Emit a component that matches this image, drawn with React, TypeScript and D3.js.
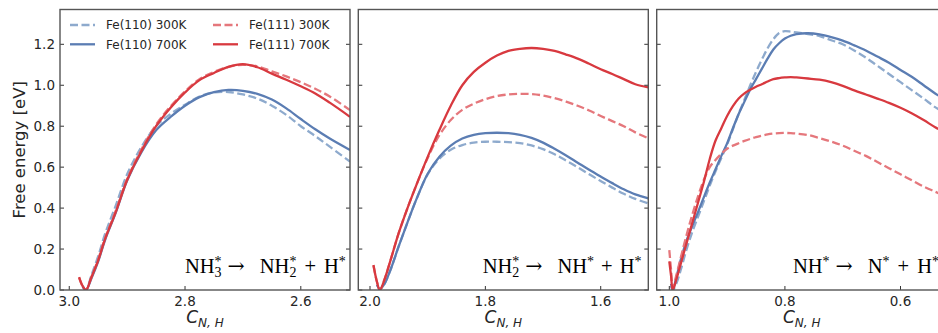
import React from "react";
import * as d3 from "d3";

// ---------- data ----------
const yTicks = [0.0, 0.2, 0.4, 0.6, 0.8, 1.0, 1.2];

const p1Ticks = [3.0, 2.8, 2.6];
const p1C = [2.983, 2.977, 2.971, 2.962, 2.95, 2.938, 2.92, 2.9, 2.875, 2.85, 2.825, 2.8, 2.775, 2.75, 2.725, 2.7, 2.675, 2.65, 2.625, 2.6, 2.575, 2.55, 2.515];
const p1Fe110_300 = [null, 0.02, 0.0, 0.07, 0.165, 0.275, 0.41, 0.565, 0.7, 0.8, 0.86, 0.905, 0.945, 0.965, 0.967, 0.955, 0.935, 0.9, 0.855, 0.8, 0.752, 0.7, 0.627];
const p1Fe110_700 = [null, 0.015, 0.0, 0.055, 0.14, 0.245, 0.375, 0.535, 0.675, 0.78, 0.845, 0.9, 0.942, 0.966, 0.977, 0.973, 0.958, 0.93, 0.887, 0.835, 0.785, 0.74, 0.684];
const p1Fe111_300 = [0.06, 0.018, 0.0, 0.062, 0.15, 0.255, 0.385, 0.542, 0.688, 0.808, 0.897, 0.97, 1.03, 1.065, 1.09, 1.1, 1.092, 1.068, 1.043, 1.015, 0.983, 0.945, 0.879];
const p1Fe111_700 = [0.063, 0.02, 0.0, 0.06, 0.145, 0.25, 0.378, 0.537, 0.68, 0.8, 0.89, 0.965, 1.025, 1.06, 1.09, 1.103, 1.088, 1.057, 1.027, 0.995, 0.96, 0.915, 0.846];

const p2Ticks = [2.0, 1.8, 1.6];
const p2C = [1.994, 1.988, 1.983, 1.975, 1.965, 1.95, 1.935, 1.92, 1.9, 1.88, 1.86, 1.84, 1.82, 1.8, 1.78, 1.76, 1.74, 1.72, 1.7, 1.68, 1.66, 1.64, 1.62, 1.6, 1.58, 1.56, 1.54, 1.5175];
const p2Fe110_300 = [null, 0.025, 0.005, 0.03, 0.095, 0.215, 0.33, 0.44, 0.565, 0.64, 0.685, 0.708, 0.72, 0.724, 0.724, 0.722, 0.717, 0.706, 0.688, 0.663, 0.632, 0.6, 0.565, 0.532, 0.5, 0.47, 0.445, 0.423];
const p2Fe110_700 = [null, 0.025, 0.005, 0.03, 0.095, 0.215, 0.33, 0.44, 0.568, 0.65, 0.705, 0.74, 0.758, 0.766, 0.768, 0.766, 0.758, 0.743, 0.72, 0.69, 0.657, 0.622, 0.587, 0.554, 0.522, 0.492, 0.467, 0.448];
const p2Fe111_300 = [0.12, 0.04, 0.0, 0.05, 0.14, 0.28, 0.4, 0.51, 0.645, 0.755, 0.83, 0.88, 0.91, 0.932, 0.947, 0.955, 0.958, 0.957, 0.95, 0.937, 0.92, 0.9, 0.877, 0.85, 0.825, 0.8, 0.77, 0.741];
const p2Fe111_700 = [0.122, 0.04, 0.0, 0.05, 0.14, 0.28, 0.4, 0.51, 0.65, 0.78, 0.9, 1.0, 1.065, 1.11, 1.145, 1.168, 1.178, 1.182, 1.178, 1.168, 1.15, 1.13, 1.105, 1.078, 1.055, 1.03, 1.005, 0.99];

const p3Ticks = [1.0, 0.8, 0.6];
const p3C = [1.0, 0.997, 0.994, 0.988, 0.98, 0.97, 0.96, 0.95, 0.94, 0.93, 0.92, 0.91, 0.9, 0.89, 0.88, 0.87, 0.86, 0.85, 0.84, 0.83, 0.82, 0.81, 0.8, 0.79, 0.78, 0.76, 0.74, 0.72, 0.7, 0.68, 0.66, 0.64, 0.62, 0.6, 0.58, 0.56, 0.54, 0.52];
const p3Fe110_300 = [null, 0.02, 0.0, 0.03, 0.1, 0.2, 0.285, 0.36, 0.435, 0.51, 0.58, 0.645, 0.71, 0.785, 0.86, 0.93, 1.0, 1.065, 1.125, 1.18, 1.225, 1.255, 1.264, 1.262, 1.258, 1.25, 1.24, 1.22, 1.2, 1.17, 1.135, 1.095, 1.055, 1.015, 0.975, 0.935, 0.893, 0.86];
const p3Fe110_700 = [null, 0.03, 0.0, 0.06, 0.15, 0.242, 0.315, 0.383, 0.455, 0.525, 0.59, 0.655, 0.716, 0.79, 0.86, 0.92, 0.98, 1.03, 1.08, 1.13, 1.175, 1.205, 1.228, 1.242, 1.25, 1.254, 1.248, 1.235, 1.218, 1.195, 1.17, 1.14, 1.11, 1.075, 1.04, 1.0, 0.96, 0.925];
const p3Fe111_300 = [0.195, 0.1, 0.01, 0.07, 0.16, 0.27, 0.37, 0.46, 0.54, 0.6, 0.635, 0.665, 0.69, 0.705, 0.717, 0.728, 0.738, 0.747, 0.754, 0.76, 0.764, 0.766, 0.767, 0.766, 0.764, 0.757, 0.742, 0.725, 0.705, 0.68, 0.655, 0.625, 0.595, 0.565, 0.535, 0.505, 0.48, 0.455];
const p3Fe111_700 = [0.14, 0.07, 0.0, 0.05, 0.13, 0.23, 0.33, 0.43, 0.53, 0.64, 0.73, 0.79, 0.85, 0.898, 0.935, 0.96, 0.978, 0.993, 1.005, 1.018, 1.03, 1.035, 1.038, 1.04, 1.038, 1.033, 1.027, 1.015, 0.997, 0.975, 0.955, 0.935, 0.914, 0.89, 0.862, 0.83, 0.795, 0.765];

const seriesNames = ["Fe(110) 300K", "Fe(110) 700K", "Fe(111) 300K", "Fe(111) 700K"];

// ---------- styling ----------
const W = 938;
const H = 333;
const TOP = 9.5;
const BOTTOM = 290;
const PW = 290;
const panelLefts = [60, 358.3, 656.7];
const xDomains: [number, number][] = [
  [3.016, 2.515],
  [2.0203, 1.5175],
  [1.0218, 0.5201],
];
const annotStart = [125, 124.4, 136.3];

const styles = [
  { color: "#8eaacd", dash: "8,3.5" },
  { color: "#5b7db3", dash: null },
  { color: "#e5777c", dash: "8,3.5" },
  { color: "#d8393f", dash: null },
];

const SANS = "DejaVu Sans, sans-serif";
const SERIF = "Liberation Serif, DejaVu Serif, serif";

type Part = { t: string; k: "n" | "sup" | "ss" | "arr" | "op"; s?: string; g?: number };
const annotations: Part[][] = [
  [
    { t: "NH", k: "n" },
    { t: "3", k: "ss", s: "*" },
    { t: "\u2192", k: "arr", g: 6 },
    { t: "NH", k: "n", g: 15 },
    { t: "2", k: "ss", s: "*" },
    { t: "+", k: "op", g: 8 },
    { t: "H", k: "n", g: 8 },
    { t: "*", k: "sup" },
  ],
  [
    { t: "NH", k: "n" },
    { t: "2", k: "ss", s: "*" },
    { t: "\u2192", k: "arr", g: 6 },
    { t: "NH", k: "n", g: 15 },
    { t: "*", k: "sup" },
    { t: "+", k: "op", g: 7 },
    { t: "H", k: "n", g: 7 },
    { t: "*", k: "sup" },
  ],
  [
    { t: "NH", k: "n" },
    { t: "*", k: "sup" },
    { t: "\u2192", k: "arr", g: 6 },
    { t: "N", k: "n", g: 15 },
    { t: "*", k: "sup" },
    { t: "+", k: "op", g: 8 },
    { t: "H", k: "n", g: 8 },
    { t: "*", k: "sup" },
  ],
];

const panelData = [
  { c: p1C, ticks: p1Ticks, series: [p1Fe110_300, p1Fe110_700, p1Fe111_300, p1Fe111_700] },
  { c: p2C, ticks: p2Ticks, series: [p2Fe110_300, p2Fe110_700, p2Fe111_300, p2Fe111_700] },
  { c: p3C, ticks: p3Ticks, series: [p3Fe110_300, p3Fe110_700, p3Fe111_300, p3Fe111_700] },
];

const y = d3.scaleLinear().domain([0, 1.37]).range([BOTTOM, TOP]);

function Annotation({ parts, x0, base }: { parts: Part[]; x0: number; base: number }) {
  const fs = 20.5;
  const small = 14;
  const nodes: React.ReactNode[] = [];
  let cur = 0;
  const go = (target: number) => {
    const d = target - cur;
    cur = target;
    return d;
  };
  parts.forEach((p, i) => {
    const gap = p.g || 0;
    if (p.k === "n" || p.k === "op") {
      nodes.push(
        <tspan key={i} dx={gap} dy={go(0)} fontSize={fs}>
          {p.t}
        </tspan>
      );
    } else if (p.k === "arr") {
      nodes.push(
        <tspan key={i} dx={gap} dy={go(0)} fontSize={fs} fontFamily="DejaVu Serif, serif">
          {p.t}
        </tspan>
      );
    } else if (p.k === "sup") {
      nodes.push(
        <tspan key={i} dx={gap} dy={go(-6.5)} fontSize={small}>
          {p.t}
        </tspan>
      );
    } else {
      nodes.push(
        <tspan key={i + "a"} dx={gap} dy={go(4.2)} fontSize={small}>
          {p.t}
        </tspan>
      );
      nodes.push(
        <tspan key={i + "b"} dy={go(-6.5)} dx={-7} fontSize={small}>
          {p.s}
        </tspan>
      );
    }
  });
  return (
    <text x={x0} y={base} fontFamily={SERIF} fill="#000">
      {nodes}
    </text>
  );
}

export default function App() {
  return (
    <svg width={W} height={H} style={{ position: "absolute", left: 0, top: 0 }} xmlns="http://www.w3.org/2000/svg">
      <rect width={W} height={H} fill="#fff" />
      <defs>
        {panelLefts.map((l, i) => (
          <clipPath id={`clip${i}`} key={i}>
            <rect x={l} y={TOP} width={PW} height={BOTTOM - TOP} />
          </clipPath>
        ))}
      </defs>
      {panelData.map((pd, pi) => {
        const left = panelLefts[pi];
        const x = d3.scaleLinear().domain(xDomains[pi]).range([left, left + PW]);
        const line = d3
          .line<[number, number | null]>()
          .defined((d) => d[1] !== null)
          .x((d) => x(d[0]))
          .y((d) => y(d[1] as number))
          .curve(d3.curveCatmullRom.alpha(0.5));
        return (
          <g key={pi}>
            <g clipPath={`url(#clip${pi})`}>
              {pd.series.map((vals, si) => {
                const pts = pd.c.map((c, k) => [c, vals[k]] as [number, number | null]);
                return (
                  <path
                    key={si}
                    d={line(pts) || ""}
                    fill="none"
                    stroke={styles[si].color}
                    strokeWidth={2.3}
                    strokeDasharray={styles[si].dash || undefined}
                    strokeLinecap="butt"
                    strokeLinejoin="round"
                  />
                );
              })}
            </g>
            {yTicks.map((t) => (
              <g key={t}>
                <line x1={left} x2={left + 4} y1={y(t)} y2={y(t)} stroke="#333" strokeWidth={1} />
                <line x1={left + PW - 4} x2={left + PW} y1={y(t)} y2={y(t)} stroke="#333" strokeWidth={1} />
                {pi === 0 && (
                  <text x={left - 5} y={y(t) + 4.9} textAnchor="end" fontFamily={SANS} fontSize={13.5} fill="#262626">
                    {t.toFixed(1)}
                  </text>
                )}
              </g>
            ))}
            {pd.ticks.map((t) => (
              <g key={t}>
                <line x1={x(t)} x2={x(t)} y1={BOTTOM} y2={BOTTOM - 4} stroke="#333" strokeWidth={1} />
                <text x={x(t)} y={306} textAnchor="middle" fontFamily={SANS} fontSize={13.5} fill="#262626">
                  {t.toFixed(1)}
                </text>
              </g>
            ))}
            <rect x={left} y={TOP} width={PW} height={BOTTOM - TOP} fill="none" stroke="#555" strokeWidth={1.4} />
            <text x={left + PW / 2} y={323} textAnchor="middle" fontFamily={SANS} fill="#262626">
              <tspan fontSize={17} fontStyle="italic">C</tspan>
              <tspan fontSize={12} fontStyle="italic" dy={4}>N, H</tspan>
            </text>
            <Annotation parts={annotations[pi]} x0={left + annotStart[pi]} base={272.7} />
          </g>
        );
      })}
      <text
        transform={`translate(25,${(TOP + BOTTOM) / 2}) rotate(-90)`}
        textAnchor="middle"
        fontFamily={SANS}
        fontSize={16.5}
        fill="#262626"
      >
        Free energy [eV]
      </text>
      {seriesNames.map((name, i) => {
        const col = i < 2 ? 0 : 1;
        const row = i % 2;
        const hx = col === 0 ? 70 : 213;
        const cy = row === 0 ? 25 : 44.3;
        return (
          <g key={name}>
            <line x1={hx} x2={hx + 25} y1={cy} y2={cy} stroke={styles[i].color} strokeWidth={2.3} strokeDasharray={styles[i].dash || undefined} />
            <text x={hx + 36} y={cy + 4.3} fontFamily={SANS} fontSize={12} fill="#262626">
              {name}
            </text>
          </g>
        );
      })}
    </svg>
  );
}
